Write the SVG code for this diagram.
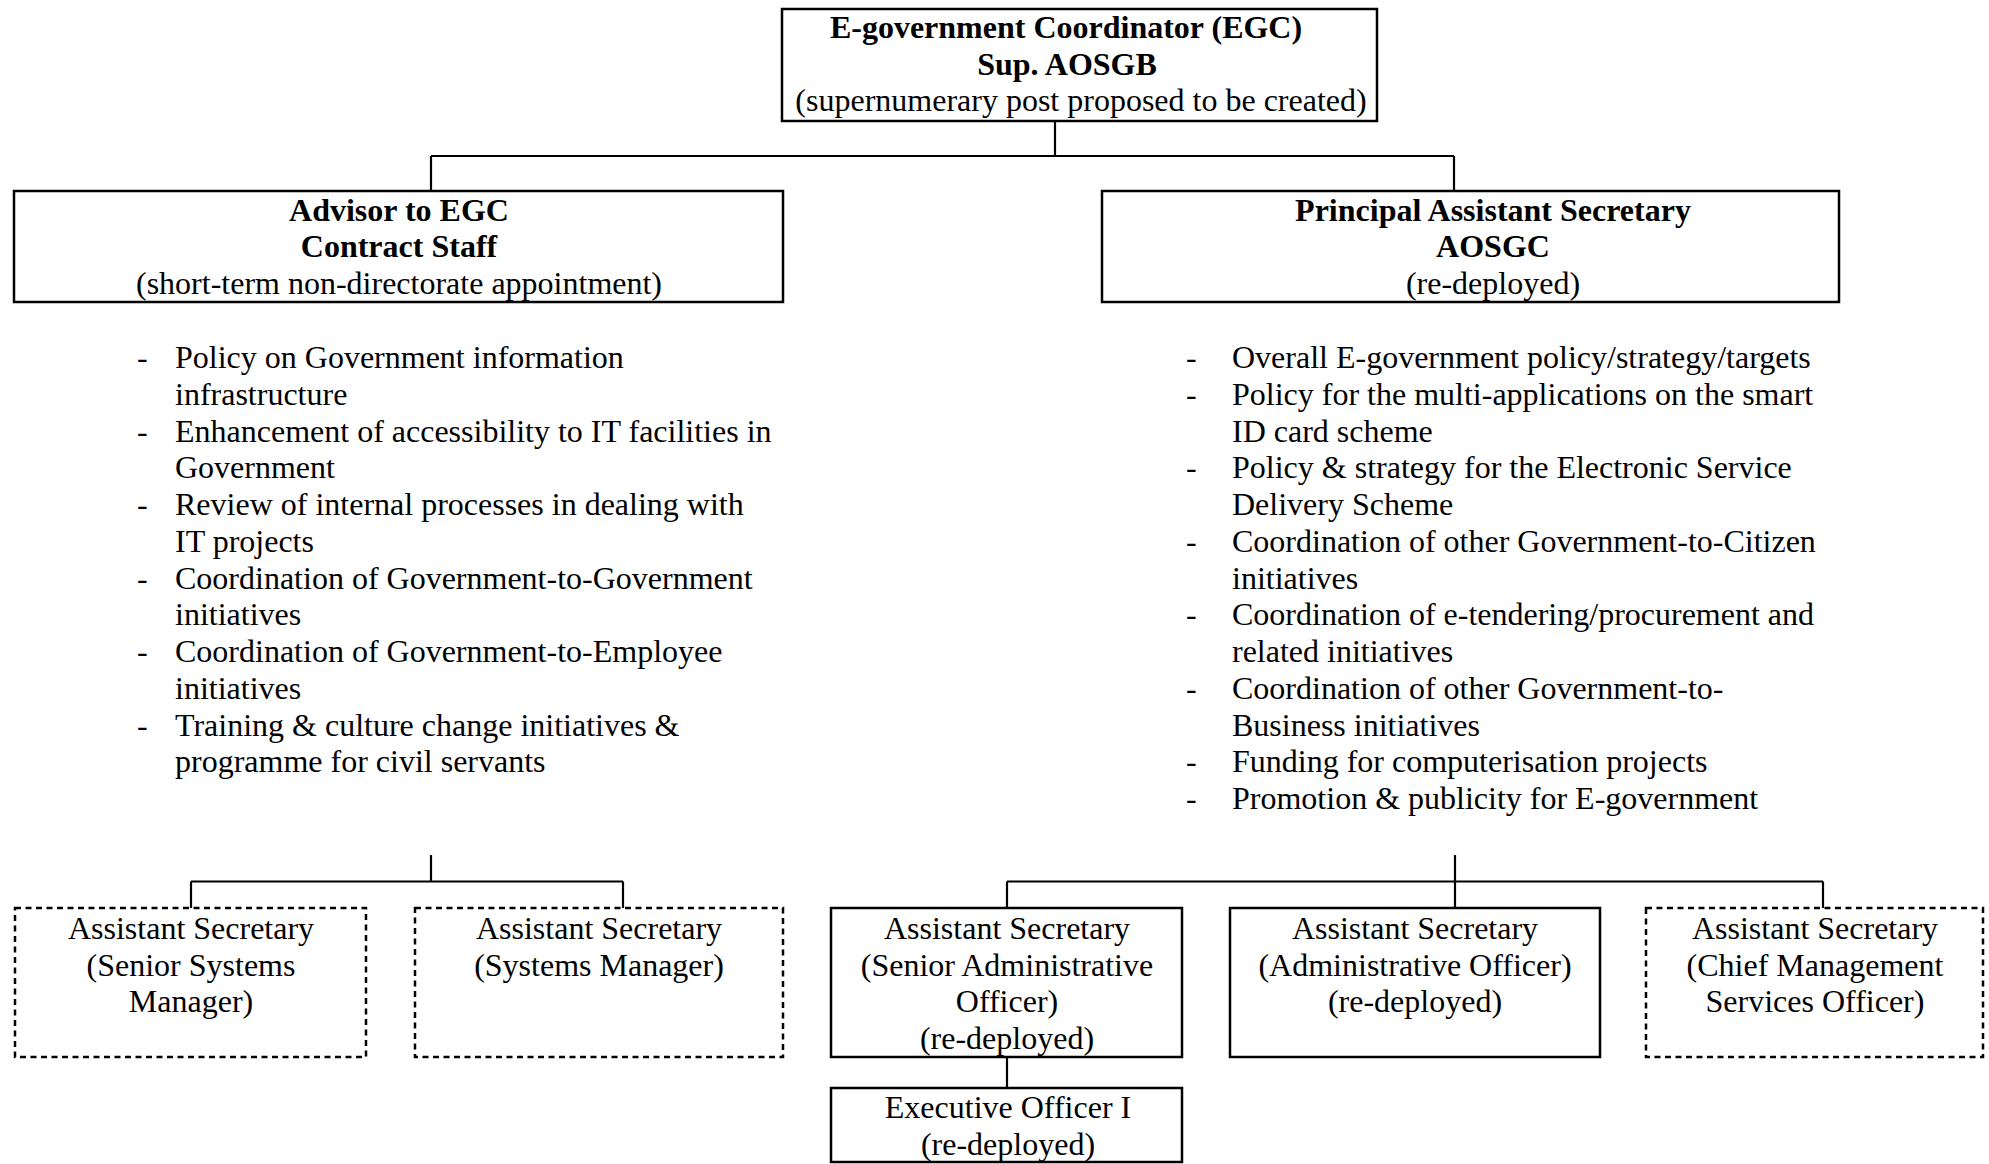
<svg xmlns="http://www.w3.org/2000/svg" width="1989" height="1164" viewBox="0 0 1989 1164">
<style>
text{font-family:"Liberation Serif","Times New Roman",serif;font-size:32px;fill:#000}
.b{font-weight:bold}
.m{text-anchor:middle}
.box{fill:#fff;stroke:#000;stroke-width:2.5}
.dash{fill:#fff;stroke:#000;stroke-width:2.5;stroke-dasharray:6 4.5}
.conn{fill:none;stroke:#000;stroke-width:2.2}
</style>
<rect width="1989" height="1164" fill="#fff"/>
<g id="connectors">
<path class="conn" d="M1055 121V156M431 156H1454M431 156V191M1454 156V191"/>
<path class="conn" d="M431 855V881.5M191 881.5H623M191 881.5V908M623 881.5V908"/>
<path class="conn" d="M1455 855V908M1007 881.5H1823M1007 881.5V908M1823 881.5V908"/>
<path class="conn" d="M1007 1057V1088"/>
</g>
<g id="egc">
<rect class="box" x="782" y="9" width="595" height="112"/>
<text class="b m" x="1066" y="38">E-government Coordinator (EGC)</text>
<text class="b m" x="1067" y="75">Sup. AOSGB</text>
<text class="m" x="1081" y="111">(supernumerary post proposed to be created)</text>
</g>
<g id="advisor">
<rect class="box" x="14" y="191" width="769" height="111"/>
<text class="b m" x="399" y="220.5">Advisor to EGC</text>
<text class="b m" x="399" y="257">Contract Staff</text>
<text class="m" x="399" y="294">(short-term non-directorate appointment)</text>
</g>
<g id="pas">
<rect class="box" x="1102" y="191" width="737" height="111"/>
<text class="b m" x="1493" y="220.5">Principal Assistant Secretary</text>
<text class="b m" x="1493" y="257">AOSGC</text>
<text class="m" x="1493" y="294">(re-deployed)</text>
</g>
<g id="advisor-duties">
<text x="137" y="368">-</text><text x="175" y="368">Policy on Government information</text>
<text x="175" y="404.75">infrastructure</text>
<text x="137" y="441.5">-</text><text x="175" y="441.5">Enhancement of accessibility to IT facilities in</text>
<text x="175" y="478.25">Government</text>
<text x="137" y="515">-</text><text x="175" y="515">Review of internal processes in dealing with</text>
<text x="175" y="551.75">IT projects</text>
<text x="137" y="588.5">-</text><text x="175" y="588.5">Coordination of Government-to-Government</text>
<text x="175" y="625.25">initiatives</text>
<text x="137" y="662">-</text><text x="175" y="662">Coordination of Government-to-Employee</text>
<text x="175" y="698.75">initiatives</text>
<text x="137" y="735.5">-</text><text x="175" y="735.5">Training &amp; culture change initiatives &amp;</text>
<text x="175" y="772.25">programme for civil servants</text>
</g>
<g id="pas-duties">
<text x="1186" y="368">-</text><text x="1232" y="368">Overall E-government policy/strategy/targets</text>
<text x="1186" y="404.75">-</text><text x="1232" y="404.75">Policy for the multi-applications on the smart</text>
<text x="1232" y="441.5">ID card scheme</text>
<text x="1186" y="478.25">-</text><text x="1232" y="478.25">Policy &amp; strategy for the Electronic Service</text>
<text x="1232" y="515">Delivery Scheme</text>
<text x="1186" y="551.75">-</text><text x="1232" y="551.75">Coordination of other Government-to-Citizen</text>
<text x="1232" y="588.5">initiatives</text>
<text x="1186" y="625.25">-</text><text x="1232" y="625.25">Coordination of e-tendering/procurement and</text>
<text x="1232" y="662">related initiatives</text>
<text x="1186" y="698.75">-</text><text x="1232" y="698.75">Coordination of other Government-to-</text>
<text x="1232" y="735.5">Business initiatives</text>
<text x="1186" y="772.25">-</text><text x="1232" y="772.25">Funding for computerisation projects</text>
<text x="1186" y="809">-</text><text x="1232" y="809">Promotion &amp; publicity for E-government</text>
</g>
<g id="as-ssm">
<rect class="dash" x="15" y="908" width="351" height="149"/>
<text class="m" x="191" y="939">Assistant Secretary</text>
<text class="m" x="191" y="975.5">(Senior Systems</text>
<text class="m" x="191" y="1012">Manager)</text>
</g>
<g id="as-sm">
<rect class="dash" x="415" y="908" width="368" height="149"/>
<text class="m" x="599" y="939">Assistant Secretary</text>
<text class="m" x="599" y="975.5">(Systems Manager)</text>
</g>
<g id="as-sao">
<rect class="box" x="831" y="908" width="351" height="149"/>
<text class="m" x="1007" y="939">Assistant Secretary</text>
<text class="m" x="1007" y="975.5">(Senior Administrative</text>
<text class="m" x="1007" y="1012">Officer)</text>
<text class="m" x="1007" y="1048.5">(re-deployed)</text>
</g>
<g id="as-ao">
<rect class="box" x="1230" y="908" width="370" height="149"/>
<text class="m" x="1415" y="939">Assistant Secretary</text>
<text class="m" x="1415" y="975.5">(Administrative Officer)</text>
<text class="m" x="1415" y="1012">(re-deployed)</text>
</g>
<g id="as-cmso">
<rect class="dash" x="1646" y="908" width="337" height="149"/>
<text class="m" x="1815" y="939">Assistant Secretary</text>
<text class="m" x="1815" y="975.5">(Chief Management</text>
<text class="m" x="1815" y="1012">Services Officer)</text>
</g>
<g id="eo1">
<rect class="box" x="831" y="1088" width="351" height="74"/>
<text class="m" x="1008" y="1118">Executive Officer I</text>
<text class="m" x="1008" y="1155">(re-deployed)</text>
</g>
</svg>
